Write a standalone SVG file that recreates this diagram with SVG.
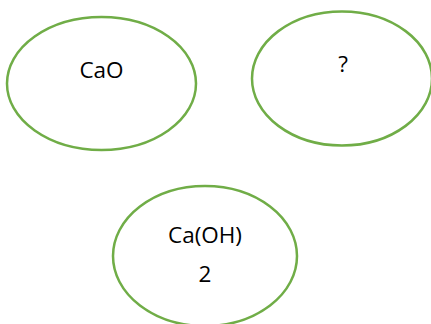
<svg xmlns="http://www.w3.org/2000/svg" width="431" height="324" viewBox="0 0 431 324">
<style>
.n{fill:#fff;stroke:#70AD47;stroke-width:2.5}
.t{font-family:"Open Sans","Liberation Sans",sans-serif;font-size:22.5px;fill:#000;text-anchor:middle}
</style>
<rect width="431" height="324" fill="#fff"/>
<g id="connectors"></g>
<g id="cao">
<ellipse class="n" cx="101.5" cy="83.5" rx="94.5" ry="66.5"/>
<text class="t" x="101.5" y="77.5">CaO</text>
</g>
<g id="unknown">
<ellipse class="n" cx="342" cy="78.5" rx="90" ry="67"/>
<text class="t" x="343" y="72">?</text>
</g>
<g id="caoh2">
<ellipse class="n" cx="205" cy="256" rx="92" ry="70"/>
<text class="t" x="205" y="243">Ca(OH)</text>
<text class="t" x="205" y="281.5">2</text>
</g>
</svg>
